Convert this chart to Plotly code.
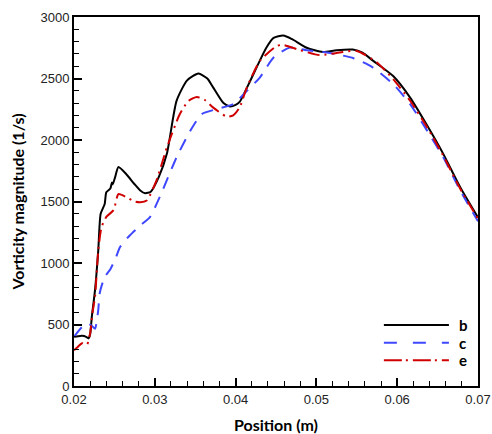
import plotly.graph_objects as go

# Series b (solid black)
b_x = [0.0200, 0.0205, 0.0210, 0.0215, 0.0218, 0.0220, 0.0222, 0.0226, 0.0230, 0.0233, 0.0238, 0.0240,
       0.0245, 0.0247, 0.0248, 0.0251, 0.0255, 0.0265, 0.0275, 0.0282, 0.0288, 0.0295, 0.0305, 0.0315,
       0.0327, 0.0340, 0.0354, 0.0365, 0.0372, 0.0385, 0.0393, 0.0400, 0.0405, 0.0418, 0.0426, 0.0438,
       0.0447, 0.0459, 0.0470, 0.0488, 0.0508, 0.0525, 0.0545, 0.0557, 0.0570, 0.0595, 0.0616, 0.0636,
       0.0657, 0.0678, 0.0700]
b_y = [400, 405, 408, 400, 387, 420, 560, 780, 1100, 1400, 1480, 1575,
       1605, 1655, 1640, 1700, 1780, 1720, 1640, 1590, 1567, 1580, 1700, 1890,
       2320, 2485, 2540, 2500, 2430, 2300, 2272, 2285, 2310, 2480, 2590, 2750,
       2830, 2850, 2820, 2750, 2715, 2730, 2735, 2710, 2645, 2520, 2345, 2130,
       1887, 1616, 1370]

# Series c (dashed blue)
c_x = [0.0200, 0.0210, 0.0217, 0.0222, 0.0226, 0.0228, 0.0230, 0.0232, 0.0238, 0.0245, 0.0251, 0.0257,
       0.0269, 0.0282, 0.0294, 0.0306, 0.0327, 0.0344, 0.0358, 0.0377, 0.0397, 0.0414, 0.0430, 0.0447,
       0.0467, 0.0488, 0.0513, 0.0546, 0.0570, 0.0595, 0.0616, 0.0637, 0.0657, 0.0678, 0.0700]
c_y = [400, 480, 505, 490, 465, 520, 616, 760, 886, 950, 1030, 1130,
       1224, 1305, 1373, 1535, 1860, 2076, 2210, 2252, 2292, 2400, 2508, 2670,
       2751, 2730, 2711, 2665, 2589, 2454, 2292, 2076, 1859, 1589, 1340]

# Series e (dash-dot red)
e_x = [0.0200, 0.0205, 0.0210, 0.0216, 0.0220, 0.0223, 0.0226, 0.0230, 0.0234, 0.0240, 0.0249, 0.0255,
       0.0265, 0.0275, 0.0282, 0.0290, 0.0302, 0.0315, 0.0331, 0.0342, 0.0352, 0.0362, 0.0372, 0.0389,
       0.0397, 0.0405, 0.0414, 0.0430, 0.0451, 0.0459, 0.0480, 0.0504, 0.0529, 0.0550, 0.0575, 0.0595,
       0.0616, 0.0637, 0.0657, 0.0678, 0.0700]
e_y = [290, 320, 348, 335, 430, 600, 724, 1100, 1290, 1375, 1430, 1560,
       1535, 1500, 1494, 1508, 1670, 1940, 2211, 2320, 2350, 2325, 2265, 2190,
       2200, 2265, 2427, 2643, 2765, 2773, 2730, 2690, 2711, 2724, 2630, 2495,
       2319, 2103, 1872, 1603, 1360]

x_ticks = [0.02, 0.03, 0.04, 0.05, 0.06, 0.07]
y_ticks = [0, 500, 1000, 1500, 2000, 2500, 3000]

series_names = ["b", "c", "e"]
colors = ["black", "#3f48ff", "#d00000"]
dashes = ["solid", "12px,9px", "12px,5px,2px,5px"]
legend_dashes = ["solid", "13px,16px", "18px,4px,2px,5px"]

fig = go.Figure()
for xs, ys, nm, col, ds in zip([b_x, c_x, e_x], [b_y, c_y, e_y], series_names, colors, dashes):
    fig.add_trace(go.Scatter(x=xs, y=ys, name=nm, mode="lines", showlegend=False,
                             line=dict(color=col, width=2, dash=ds, shape="spline", smoothing=0.6)))

# Legend drawn in paper coordinates (long line samples as in the reference)
legend_rows_y = [0.165, 0.117, 0.070]
for nm, col, ds, ly in zip(series_names, colors, legend_dashes, legend_rows_y):
    fig.add_shape(type="line", xref="paper", yref="paper", x0=0.767, x1=0.928, y0=ly, y1=ly,
                  line=dict(color=col, width=2, dash=ds))
    fig.add_annotation(xref="paper", yref="paper", x=0.947, y=ly, text=nm, showarrow=False,
                       xanchor="left", yanchor="middle",
                       font=dict(family="Lato, Open Sans", size=15, color="black", weight="bold"))

tickfont = dict(family="Liberation Sans, Arial", size=13, color="#222")
titlefont = dict(family="Lato, Open Sans", size=16, color="black", weight="bold")

fig.update_layout(
    width=492, height=434,
    margin=dict(l=74, r=14, t=17, b=48),
    paper_bgcolor="white", plot_bgcolor="white",
    showlegend=False,
    xaxis=dict(range=[0.02, 0.07], tickvals=x_ticks, ticktext=[str(v) for v in x_ticks],
               ticks="inside", ticklen=8, tickwidth=1.5, tickcolor="black",
               minor=dict(dtick=0.002, ticks="inside", ticklen=5, tickwidth=1, tickcolor="black"),
               showline=True, linewidth=2, linecolor="black", mirror=True, automargin=False,
               showgrid=False, zeroline=False, tickfont=tickfont,
               title=dict(text="Position (m)", font=titlefont, standoff=14)),
    yaxis=dict(range=[0, 3000], tickvals=y_ticks,
               ticks="inside", ticklen=8, tickwidth=1.5, tickcolor="black",
               minor=dict(dtick=100, ticks="inside", ticklen=5, tickwidth=1, tickcolor="black"),
               showline=True, linewidth=2, linecolor="black", mirror=True, automargin=False,
               showgrid=False, zeroline=False, tickfont=tickfont,
               title=dict(text="Vorticity magnitude (1/s)", font=titlefont, standoff=12)),
)

fig.write_html("out.html")
